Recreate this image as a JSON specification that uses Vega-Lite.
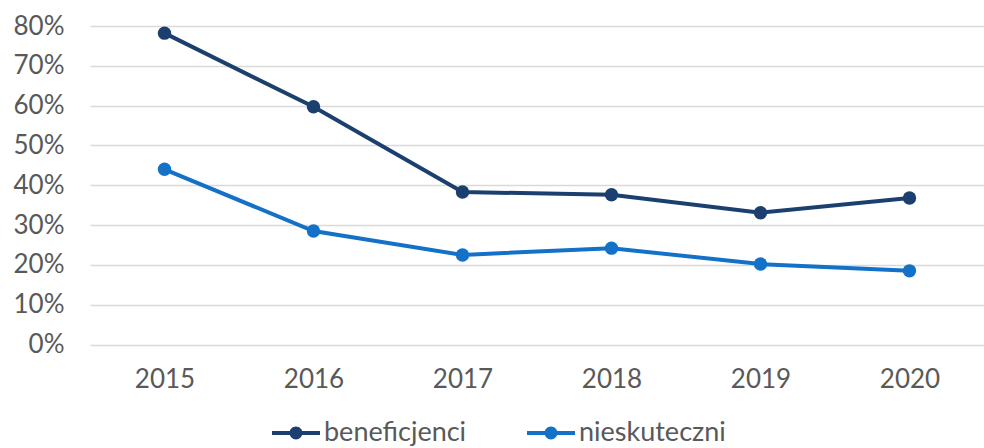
{
  "$schema": "https://vega.github.io/schema/vega-lite/v6.json",
  "width": 894,
  "height": 318.5,
  "autosize": {"type": "none"},
  "padding": {"left": 90, "top": 26, "right": 0, "bottom": 103.5},
  "background": "white",
  "config": {
    "view": {"stroke": null},
    "font": "Lato",
    "axis": {"labelFont": "Lato", "labelColor": "#595959", "labelFontSize": 26, "domain": false, "ticks": false, "gridColor": "#d9d9d9", "gridWidth": 1.5},
    "legend": {"labelFont": "Lato", "labelColor": "#595959", "labelFontSize": 27}
  },
  "data": {
    "values": [
      {"year": "2015", "series": "beneficjenci", "value": 0.782},
      {"year": "2016", "series": "beneficjenci", "value": 0.597},
      {"year": "2017", "series": "beneficjenci", "value": 0.383},
      {"year": "2018", "series": "beneficjenci", "value": 0.376},
      {"year": "2019", "series": "beneficjenci", "value": 0.331},
      {"year": "2020", "series": "beneficjenci", "value": 0.368},
      {"year": "2015", "series": "nieskuteczni", "value": 0.440},
      {"year": "2016", "series": "nieskuteczni", "value": 0.285},
      {"year": "2017", "series": "nieskuteczni", "value": 0.225},
      {"year": "2018", "series": "nieskuteczni", "value": 0.242},
      {"year": "2019", "series": "nieskuteczni", "value": 0.202},
      {"year": "2020", "series": "nieskuteczni", "value": 0.185}
    ]
  },
  "mark": {"type": "line", "strokeWidth": 4, "point": {"filled": true, "size": 180, "opacity": 1}},
  "encoding": {
    "x": {
      "field": "year", "type": "ordinal",
      "scale": {"type": "point", "padding": 0.5},
      "axis": {"title": null, "labelAngle": 0, "labelPadding": 22, "grid": false}
    },
    "y": {
      "field": "value", "type": "quantitative",
      "scale": {"domain": [0, 0.8], "nice": false},
      "axis": {"title": null, "format": ".0%", "values": [0, 0.1, 0.2, 0.3, 0.4, 0.5, 0.6, 0.7, 0.8], "labelPadding": 26}
    },
    "color": {
      "field": "series", "type": "nominal",
      "scale": {"domain": ["beneficjenci", "nieskuteczni"], "range": ["#1B406F", "#1471C8"]},
      "legend": {
        "title": null, "orient": "none", "direction": "horizontal",
        "legendX": 182, "legendY": 383,
        "symbolType": "M-1,-0.085H1V0.085H-1Z M0.27,0A0.27,0.27 0 1 1 -0.27,0A0.27,0.27 0 1 1 0.27,0Z",
        "symbolSize": 2304, "symbolStrokeWidth": 0, "labelOffset": 4, "columnPadding": 60,
        "encode": {"symbols": {"update": {"fill": {"scale": "color", "field": "value"}, "strokeWidth": {"value": 0}, "opacity": {"value": 1}}}}
      }
    }
  }
}
